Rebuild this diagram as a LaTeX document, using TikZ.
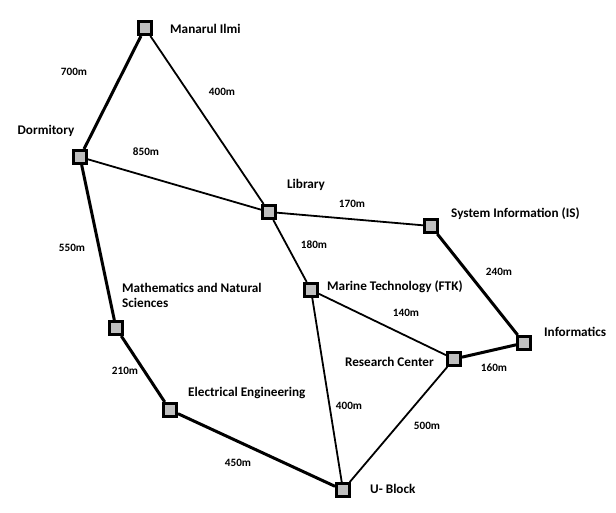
\documentclass[tikz,border=0pt]{standalone}
\usepackage{fontspec}
\setmainfont{Carlito}
\begin{document}
\begin{tikzpicture}[x=1pt, y=-1pt,
  bldg/.style={rectangle, draw, line width=3pt, fill=gray!50, minimum size=13pt, inner sep=0pt},
  lbl/.style={inner sep=0pt, font=\fontsize{13.2}{15}\selectfont\bfseries},
  dist/.style={inner sep=0pt, font=\fontsize{11.2}{13}\selectfont\bfseries},
  road/.style={line width=1.8pt},
  mainroad/.style={line width=3pt}]
\useasboundingbox (0,0) rectangle (616,513);
\node[bldg] (mi) at (145,28){};
\node[bldg] (dorm) at (80,157){};
\node[bldg] (lib) at (269,212){};
\node[bldg] (si) at (431,226){};
\node[bldg] (ftk) at (311,290){};
\node[bldg] (mat) at (116,328){};
\node[bldg] (inf) at (524,343){};
\node[bldg] (rc) at (454,359){};
\node[bldg] (ee) at (170,410){};
\node[bldg] (ub) at (343,490){};
\draw[mainroad](dorm) -- (mi);
\draw[road](mi) -- (lib);
\draw[road](dorm) -- (lib);
\draw[road](lib) -- (si);
\draw[road](lib) -- (ftk);
\draw[mainroad](dorm) -- (mat);
\draw[mainroad](mat) -- (ee);
\draw[mainroad](ee) -- (ub);
\draw[road](ftk) -- (ub);
\draw[road](ftk) -- (rc);
\draw[road](rc) -- (ub);
\draw[mainroad](si) -- (inf);
\draw[mainroad](rc) -- (inf);
\node[lbl, anchor=west] (lmi) at (170,29){Manarul Ilmi};
\node[lbl] (ldorm) at (46,131){Dormitory};
\node[lbl] (llib) at (306,185){Library};
\node[lbl, anchor=west] (lsi) at (451,214){System Information (IS)};
\node[lbl, anchor=west] (lftk) at (327,287){Marine Technology (FTK)};
\node[lbl, anchor=west, align=left] (lmat) at (122,295){Mathematics and Natural\\Sciences};
\node[lbl, anchor=west] (linf) at (544,332){Informatics};
\node[lbl, anchor=east] (lrc) at (434,362){Research Center};
\node[lbl, anchor=west] (lee) at (188,393){Electrical Engineering};
\node[lbl, anchor=west] (lub) at (370,489){U- Block};
\node[dist] (d700) at (74,72){700m};
\node[dist] (d400a) at (222,92){400m};
\node[dist] (d850) at (146,152){850m};
\node[dist] (d170) at (352,204){170m};
\node[dist] (d180) at (314,245){180m};
\node[dist] (d550) at (72,248){550m};
\node[dist] (d240) at (499,272){240m};
\node[dist] (d140) at (406,313){140m};
\node[dist] (d160) at (494,368){160m};
\node[dist] (d210) at (125,371){210m};
\node[dist] (d400b) at (349,406){400m};
\node[dist] (d500) at (427,426){500m};
\node[dist] (d450) at (238,463){450m};
\end{tikzpicture}
\end{document}
